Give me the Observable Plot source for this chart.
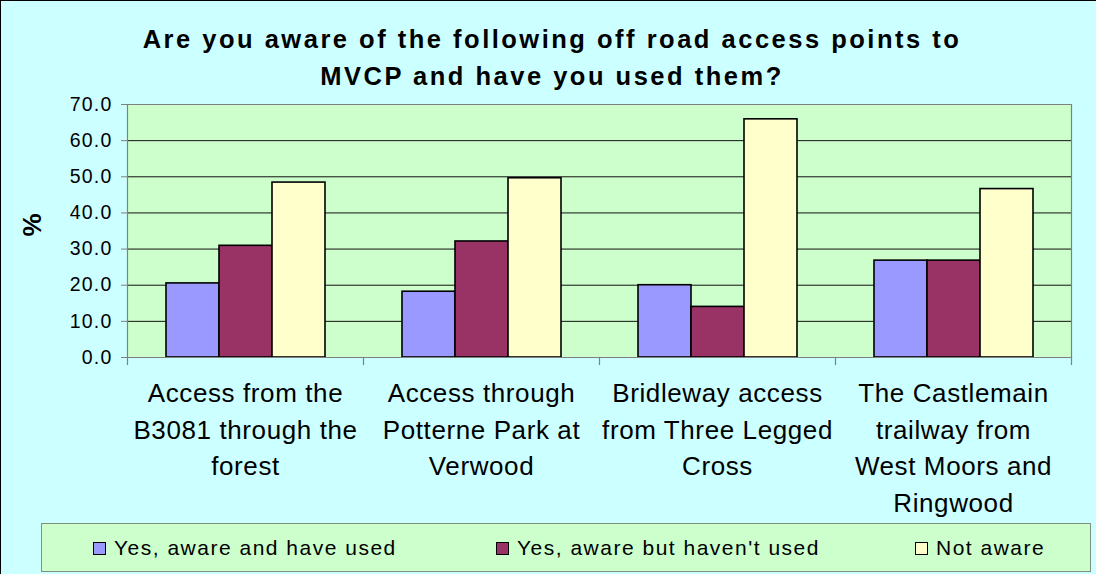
<!DOCTYPE html>
<html>
<head>
<meta charset="utf-8">
<script src="https://cdn.jsdelivr.net/npm/d3@7"></script>
<script src="https://cdn.jsdelivr.net/npm/@observablehq/plot@0.6"></script>
<style>
  html, body { margin: 0; padding: 0; background: #fff; }
  #chart {
    position: relative; width: 1096px; height: 574px; overflow: hidden;
    background: #CCFFFF; border-left: 1px solid #000; border-top: 1px solid #000;
    box-sizing: border-box; font-family: "Liberation Sans", Arial, sans-serif; color: #000;
  }
  #title {
    position: absolute; left: 3px; top: 20px; width: 1096px; text-align: center;
    font-size: 25.5px; font-weight: bold; line-height: 37px; letter-spacing: 2.5px;
  }
  #ylabel {
    position: absolute; left: 31px; top: 224px; font-size: 26px; font-weight: bold;
    transform: translate(-50%, -50%) rotate(-90deg); line-height: 1;
  }
  #plot { position: absolute; left: 0; top: 94px; }
  #plot .ytick text { letter-spacing: 1.2px; }
  #plot .cat text { letter-spacing: 0.6px; }
  #legend {
    position: absolute; left: 40px; top: 522px; width: 1050px; height: 49px;
    background: #CCFFCC; border: 1px solid #7f8f7f; box-sizing: border-box;
  }
  .item {
    position: absolute; top: 12px; font-size: 21px; letter-spacing: 1.5px; white-space: nowrap;
    display: flex; align-items: center; line-height: 24px;
  }
  .swatch {
    display: inline-block; width: 11px; height: 11px; border: 1.5px solid #000; margin-right: 8px;
  }
</style>
</head>
<body>
<div id="chart">
  <div id="title"></div>
  <div id="ylabel"></div>
  <div id="plot"></div>
  <div id="legend"></div>
</div>
<script>
const titleLines = ["Are you aware of the following off road access points to", "MVCP and have you used them?"];
const yLabel = "%";
const categories = [
  "Access from the B3081 through the forest",
  "Access through Potterne Park at Verwood",
  "Bridleway access from Three Legged Cross",
  "The Castlemain trailway from West Moors and Ringwood"
];
const categoryLabels = [
  "Access from the\nB3081 through the\nforest",
  "Access through\nPotterne Park at\nVerwood",
  "Bridleway access\nfrom Three Legged\nCross",
  "The Castlemain\ntrailway from\nWest Moors and\nRingwood"
];
const series = ["Yes, aware and have used", "Yes, aware but haven't used", "Not aware"];
const usedValues = [20.5, 18.2, 20.0, 26.8];
const notUsedValues = [30.9, 32.1, 14.0, 26.8];
const notAwareValues = [48.4, 49.6, 65.9, 46.6];
const seriesColors = ["#9999FF", "#993366", "#FFFFCC"];
const yTicks = [0, 10, 20, 30, 40, 50, 60, 70];
const legendLefts = [51, 454, 873];

const seriesValues = [usedValues, notUsedValues, notAwareValues];
const rows = categories.flatMap((c, i) => series.map((s, j) => ({category: c, series: s, value: seriesValues[j][i]})));

document.getElementById("title").innerHTML = titleLines.join("<br>");
document.getElementById("ylabel").textContent = yLabel;

const grey = "#808080";
const chart = Plot.plot({
  width: 1095,
  height: 425,
  marginLeft: 125,
  marginRight: 24,
  marginTop: 9,
  marginBottom: 163,
  style: {background: "transparent", fontFamily: "'Liberation Sans', Arial, sans-serif", fontSize: "19px", color: "#000", overflow: "visible"},
  fx: {domain: categories, padding: 0, axis: null},
  x: {domain: series, paddingInner: 0, paddingOuter: 0.72, axis: null},
  y: {domain: [0, 70], axis: null},
  color: {domain: series, range: seriesColors},
  marks: [
    Plot.frame({fill: "#CCFFCC"}),
    Plot.gridY(yTicks, {stroke: "#111", strokeOpacity: 1, strokeWidth: 1}),
    Plot.barY(rows, {fx: "category", x: "series", y: "value", fill: "series", stroke: "#000", strokeWidth: 1.6}),
    Plot.frame({anchor: "top", stroke: grey, strokeWidth: 1.2}),
    Plot.frame({anchor: "bottom", stroke: grey, strokeWidth: 1.2}),
    Plot.frame({anchor: "left", stroke: grey, strokeWidth: 1.2, facetAnchor: "left"}),
    Plot.frame({anchor: "right", stroke: grey, strokeWidth: 1.2, facetAnchor: "right"}),
    Plot.frame({anchor: "left", stroke: grey, strokeWidth: 1.2, insetTop: 253, insetBottom: -7}),
    Plot.frame({anchor: "right", stroke: grey, strokeWidth: 1.2, insetTop: 253, insetBottom: -7, facetAnchor: "right"}),
    Plot.axisY(yTicks, {tickFormat: d3.format(".1f"), tickSize: 6, tickPadding: 9, stroke: grey, fontSize: 19.5, label: null, className: "ytick"}),
    Plot.text(categories, {fx: d => d, text: d => categoryLabels[categories.indexOf(d)], frameAnchor: "bottom", lineAnchor: "top", dy: 18.5, fontSize: 26, lineHeight: 1.41, className: "cat"})
  ]
});
document.getElementById("plot").appendChild(chart);

const legend = document.getElementById("legend");
series.forEach((s, i) => {
  const item = document.createElement("div");
  item.className = "item";
  item.style.left = legendLefts[i] + "px";
  const sw = document.createElement("span");
  sw.className = "swatch";
  sw.style.background = seriesColors[i];
  const label = document.createElement("span");
  label.textContent = s;
  item.appendChild(sw);
  item.appendChild(label);
  legend.appendChild(item);
});
</script>
</body>
</html>
